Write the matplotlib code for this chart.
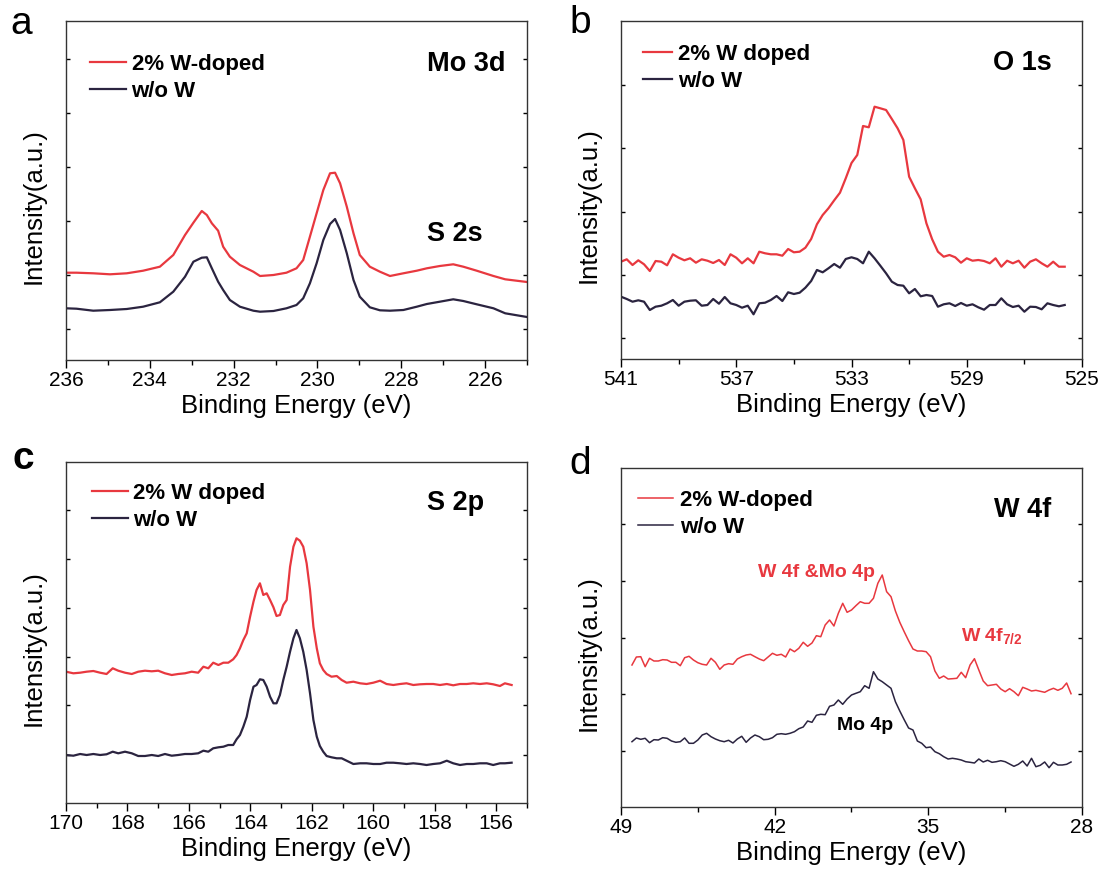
# encoding=utf-8
'''
XPS spectra, 2% W-doped vs w/o W: Mo 3d, O 1s, S 2p, W 4f
'''
import numpy as np
import matplotlib
matplotlib.use('Agg')
import matplotlib.pyplot as plt

plt.rcParams['font.family'] = ['Liberation Sans', 'DejaVu Sans']
plt.rcParams['mathtext.fontset'] = 'custom'
plt.rcParams['mathtext.rm'] = 'Liberation Sans'
plt.rcParams['mathtext.bf'] = 'Liberation Sans:bold'

RED = '#e8383f'
DARK = '#2b2440'

# ---- a: Mo 3d / S 2s ----
mo3d_energy = [236.00, 235.75, 235.35, 234.95, 234.55, 234.16, 233.76, 233.44, 233.16, 232.96,
               232.76, 232.64, 232.52, 232.37, 232.25, 232.09, 231.85, 231.53, 231.37, 231.05,
               230.74, 230.50, 230.34, 230.18, 230.02, 229.86, 229.70, 229.58, 229.46, 229.30,
               229.14, 228.99, 228.75, 228.51, 228.27, 227.95, 227.63, 227.39, 227.08, 226.76,
               226.52, 226.20, 225.80, 225.52, 225.00]
mo3d_doped = [87.3, 87.3, 86.7, 85.7, 86.7, 89.3, 93.3, 105.0, 125.0, 137.3,
              149.0, 145.0, 136.7, 129.3, 113.3, 103.3, 95.0, 88.3, 84.0, 85.0,
              87.3, 91.7, 100.0, 123.3, 146.7, 170.0, 186.7, 187.3, 176.7, 153.3,
              126.7, 105.0, 93.3, 88.3, 84.0, 86.7, 89.3, 91.7, 94.0, 95.7,
              93.3, 89.3, 84.0, 80.7, 78.0]
mo3d_pure = [51.7, 51.3, 49.3, 50.0, 51.0, 53.3, 57.7, 68.3, 83.3, 98.3,
             102.3, 102.7, 91.7, 78.3, 70.0, 60.0, 53.3, 49.3, 48.3, 49.0,
             51.7, 55.0, 61.7, 76.7, 96.7, 120.0, 136.0, 141.0, 130.0, 106.7,
             80.0, 63.3, 52.7, 49.7, 49.3, 50.0, 53.3, 56.0, 58.3, 60.7,
             59.0, 55.7, 51.7, 46.7, 43.0]

# ---- b: O 1s ----
o1s_energy = np.linspace(541.0, 525.6, 78)
o1s_doped = [97.6, 100.0, 94.3, 99.0, 95.0, 88.3, 98.3, 97.6, 94.0, 105.0,
             101.6, 99.0, 101.0, 96.6, 100.0, 98.6, 96.3, 99.3, 94.3, 105.0,
             101.6, 96.0, 101.0, 96.0, 107.6, 106.0, 105.0, 105.0, 103.6, 110.3,
             107.0, 107.6, 111.6, 120.3, 135.0, 144.3, 151.0, 159.0, 166.6, 181.0,
             196.3, 204.3, 233.3, 232.0, 252.6, 251.0, 249.3, 240.3, 231.0, 219.3,
             182.6, 171.0, 160.0, 136.0, 120.0, 107.6, 102.6, 104.3, 102.0, 96.6,
             101.0, 98.6, 99.3, 98.3, 96.0, 101.0, 92.6, 98.6, 96.0, 98.6,
             91.6, 97.6, 100.0, 96.0, 92.6, 97.6, 92.6, 92.6]
o1s_pure = [62.6, 60.3, 57.6, 59.0, 57.6, 49.3, 52.6, 53.6, 56.0, 59.3,
            53.6, 57.6, 58.6, 59.0, 53.6, 54.3, 60.3, 55.6, 62.3, 56.0,
            54.3, 51.6, 53.6, 45.0, 56.0, 56.6, 59.3, 63.3, 58.3, 67.0,
            65.3, 66.6, 71.6, 78.3, 89.3, 87.0, 91.0, 95.3, 91.6, 100.3,
            102.0, 100.3, 96.0, 107.6, 101.0, 93.6, 86.0, 77.6, 74.3, 73.6,
            66.0, 70.3, 63.0, 64.3, 63.3, 52.6, 55.0, 56.0, 53.3, 56.3,
            53.6, 55.0, 52.0, 49.6, 54.3, 54.3, 61.0, 55.0, 52.3, 53.6,
            47.6, 52.6, 52.3, 50.0, 56.0, 54.3, 53.0, 54.3]

# ---- c: S 2p ----
s2p_energy = [170.00, 169.76, 169.54, 169.33, 169.11, 168.89, 168.68, 168.48, 168.30, 168.08,
              167.86, 167.65, 167.43, 167.21, 167.00, 166.78, 166.56, 166.35, 166.13, 165.91,
              165.70, 165.53, 165.37, 165.21, 165.04, 164.88, 164.72, 164.56, 164.45, 164.34,
              164.23, 164.12, 164.01, 163.90, 163.80, 163.69, 163.58, 163.47, 163.36, 163.25,
              163.15, 163.04, 162.93, 162.82, 162.71, 162.60, 162.50, 162.39, 162.28, 162.17,
              162.06, 161.95, 161.84, 161.74, 161.63, 161.52, 161.36, 161.19, 161.03, 160.87,
              160.65, 160.43, 160.22, 160.00, 159.78, 159.57, 159.35, 159.13, 158.92, 158.70,
              158.48, 158.27, 158.05, 157.83, 157.61, 157.40, 157.18, 156.96, 156.75, 156.53,
              156.31, 156.10, 155.88, 155.72, 155.50]
s2p_doped = [131.0, 129.4, 130.0, 131.0, 131.7, 130.0, 128.7, 134.4, 132.0, 130.0,
             128.7, 131.0, 132.0, 131.4, 132.0, 129.4, 127.7, 128.7, 129.4, 131.0,
             130.0, 136.0, 134.4, 140.0, 137.7, 140.0, 140.0, 143.4, 147.7, 154.4,
             162.7, 169.4, 186.0, 201.0, 212.7, 219.4, 207.7, 209.4, 202.7, 195.4,
             186.7, 187.7, 197.7, 202.7, 236.0, 256.0, 264.4, 262.0, 256.0, 239.4,
             212.7, 176.0, 154.4, 139.4, 132.7, 128.7, 126.0, 126.7, 122.7, 120.0,
             121.0, 119.4, 118.7, 120.0, 122.0, 118.7, 117.7, 118.7, 119.4, 117.7,
             118.4, 118.7, 118.7, 117.7, 118.7, 117.4, 118.7, 118.7, 119.4, 118.7,
             119.4, 118.4, 116.7, 119.4, 117.7]
s2p_pure = [47.7, 47.0, 48.7, 47.7, 48.7, 47.7, 48.4, 51.0, 49.4, 51.0,
            49.4, 46.7, 46.7, 47.7, 46.7, 48.7, 47.0, 47.7, 48.7, 48.7,
            49.4, 52.0, 51.0, 54.4, 55.4, 56.0, 57.7, 57.7, 63.4, 67.7,
            76.0, 86.0, 102.7, 116.0, 117.7, 123.4, 122.7, 116.0, 106.0, 99.4,
            99.4, 107.7, 122.7, 136.0, 151.0, 164.4, 172.7, 164.4, 151.0, 132.7,
            109.4, 82.7, 66.0, 56.7, 51.0, 46.7, 45.4, 44.4, 44.4, 42.0,
            38.7, 39.4, 39.4, 38.7, 38.7, 40.0, 40.0, 39.4, 38.7, 39.4,
            38.7, 37.7, 38.7, 39.4, 42.0, 39.4, 37.7, 38.7, 38.7, 39.4,
            39.4, 37.7, 39.4, 39.4, 40.0]

# ---- d: W 4f ----
w4f_energy = np.linspace(48.5, 28.5, 101)
w4f_doped = [142.3, 150.3, 150.6, 140.6, 149.0, 146.3, 146.3, 147.6, 147.3, 145.0,
             145.0, 141.6, 149.6, 151.0, 147.3, 144.6, 143.0, 142.3, 149.0, 145.0,
             138.0, 142.3, 143.6, 143.0, 148.3, 150.6, 152.3, 153.0, 150.6, 148.3,
             146.6, 150.3, 154.0, 152.0, 153.0, 150.3, 158.3, 155.6, 159.0, 165.0,
             161.0, 164.3, 171.6, 170.6, 182.3, 187.3, 181.3, 194.0, 204.0, 195.0,
             197.3, 201.6, 205.6, 204.0, 204.0, 209.0, 224.0, 232.3, 215.6, 210.6,
             196.3, 185.0, 175.6, 166.6, 158.3, 156.3, 156.3, 155.6, 150.6, 136.3,
             129.0, 131.3, 128.3, 128.6, 129.0, 135.0, 129.6, 142.3, 148.6, 137.3,
             126.3, 121.6, 122.3, 123.0, 118.3, 115.6, 118.6, 115.6, 111.6, 120.0,
             118.3, 116.3, 117.0, 116.0, 115.0, 117.3, 119.0, 117.0, 119.0, 124.3,
             113.6]
w4f_pure = [65.6, 69.3, 68.0, 69.0, 64.6, 67.6, 67.3, 69.6, 69.0, 66.3,
            65.0, 65.6, 69.3, 64.0, 64.0, 67.3, 72.3, 74.0, 70.6, 68.3,
            66.6, 65.6, 67.0, 64.3, 68.3, 71.0, 65.0, 69.3, 72.3, 70.6,
            67.6, 68.0, 69.6, 73.0, 73.6, 73.0, 74.0, 75.6, 78.6, 80.3,
            86.3, 85.0, 92.0, 93.0, 92.6, 101.0, 102.3, 107.3, 103.0, 108.3,
            112.3, 114.0, 115.6, 121.6, 119.0, 135.6, 128.3, 125.6, 122.3, 119.0,
            105.6, 96.3, 87.6, 79.3, 77.3, 66.3, 64.0, 59.6, 60.3, 55.6,
            53.6, 50.6, 48.3, 49.0, 48.3, 47.3, 45.6, 45.0, 44.3, 48.3,
            45.3, 47.0, 45.0, 45.6, 46.6, 45.6, 43.3, 41.0, 43.0, 46.3,
            41.3, 49.0, 40.6, 42.0, 45.3, 39.6, 45.0, 42.3, 42.3, 43.0,
            45.3]

W, H = 1104.0, 874.0


def px_axes(fig, left, top, right, bottom):
    return fig.add_axes([left / W, 1 - bottom / H, (right - left) / W, (bottom - top) / H])


'''
函数说明：坐标轴样式
'''
def style(ax, xlim, major, minor, ylim, yticks):
    ax.set_xlim(*xlim)
    ax.set_ylim(*ylim)
    ax.set_xticks(major)
    ax.set_xticks(minor, minor=True)
    ax.set_yticks(yticks)
    ax.set_xticklabels([str(v) for v in major])
    ax.tick_params(axis='x', which='both', direction='out', top=False, labelsize=15, pad=2, width=1)
    ax.tick_params(axis='x', which='major', length=6)
    ax.tick_params(axis='x', which='minor', length=3.5)
    ax.tick_params(axis='y', which='both', direction='in', left=True, right=True,
                   length=3, width=1, labelleft=False)
    for s in ax.spines.values():
        s.set_linewidth(1.0)
        s.set_color('#333333')
    ax.set_xlabel('Binding Energy (eV)', fontsize=18.5, va='baseline')
    ax.xaxis.set_label_coords(0.5, -0.156)
    ax.set_ylabel('Intensity(a.u.)', fontsize=18.5)
    ax.yaxis.set_label_coords(-0.044, 0.455)


def legend(ax, x, y, hl, pad):
    ax.legend(loc='upper left', bbox_to_anchor=(x, y), frameon=False, borderpad=0,
              borderaxespad=0, handlelength=hl, handletextpad=pad, labelspacing=0.27,
              prop={'weight': 'bold', 'size': 16})


def label(ax, x, y, s, size=19.5, color='black', ha='center'):
    ax.text(x, y, s, transform=ax.transAxes, ha=ha, va='baseline',
            fontsize=size, fontweight='bold', color=color)


if __name__ == '__main__':
    fig = plt.figure(figsize=(11.04, 8.74), dpi=100)

    # a
    ax = px_axes(fig, 66, 20.7, 527, 360)
    ax.plot(mo3d_energy, mo3d_doped, color=RED, lw=1.6, label='2% W-doped')
    ax.plot(mo3d_energy, mo3d_pure, color=DARK, lw=1.6, label='w/o W')
    style(ax, (236, 225), list(range(236, 225, -2)), np.arange(236, 224.5, -1),
          (0, 339.3), [30.7, 84.7, 138.7, 192.7, 246.7, 300.7])
    legend(ax, 0.051, 0.902, 1.62, 0.27)
    label(ax, 0.868, 0.852, 'Mo 3d')
    label(ax, 0.844, 0.352, 'S 2s')

    # b
    ax = px_axes(fig, 621, 20.7, 1082, 359.3)
    ax.plot(o1s_energy, o1s_doped, color=RED, lw=1.6, label='2% W doped')
    ax.plot(o1s_energy, o1s_pure, color=DARK, lw=1.6, label='w/o W')
    style(ax, (541, 525), [541, 537, 533, 529, 525], np.arange(541, 524.5, -2),
          (0, 338.6), [21.0, 84.3, 147.6, 211.0, 274.3])
    legend(ax, 0.047, 0.932, 1.3, 0.28)
    label(ax, 0.871, 0.854, 'O 1s')

    # c
    ax = px_axes(fig, 66, 462, 527, 802.7)
    ax.plot(s2p_energy, s2p_doped, color=RED, lw=1.6, label='2% W doped')
    ax.plot(s2p_energy, s2p_pure, color=DARK, lw=1.6, label='w/o W')
    style(ax, (170, 155), list(range(170, 155, -2)), np.arange(170, 154.5, -1),
          (0, 340.7), [48.0, 97.4, 145.7, 194.7, 243.4, 292.4])
    legend(ax, 0.056, 0.939, 1.62, 0.24)
    label(ax, 0.845, 0.858, 'S 2p')

    # d
    ax = px_axes(fig, 621, 467.7, 1082, 807.3)
    ax.plot(w4f_energy, w4f_doped, color=RED, lw=1.1, label='2% W-doped')
    ax.plot(w4f_energy, w4f_pure, color=DARK, lw=1.1, label='w/o W')
    style(ax, (49, 28), [49, 42, 35, 28], np.arange(49, 27.9, -3.5),
          (0, 339.6), [56.3, 113.0, 169.3, 226.0, 283.0])
    legend(ax, 0.037, 0.934, 1.58, 0.32)
    label(ax, 0.872, 0.855, 'W 4f')
    label(ax, 0.424, 0.678, 'W 4f &Mo 4p', size=14, color=RED)
    label(ax, 0.737, 0.488, r'W 4f$_{\mathbf{7/2}}$', size=14, color=RED, ha='left')
    label(ax, 0.529, 0.227, 'Mo 4p', size=14)

    # 子图编号
    for lab, x, y, wt in [('a', 10, 33.5, 'normal'), ('b', 569.5, 33, 'normal'),
                          ('c', 12, 468.7, 'bold'), ('d', 569, 473.7, 'normal')]:
        fig.text(x / W, 1 - y / H, lab, fontsize=28, fontweight=wt, va='baseline', ha='left')

    fig.savefig('out.png', dpi=100)
